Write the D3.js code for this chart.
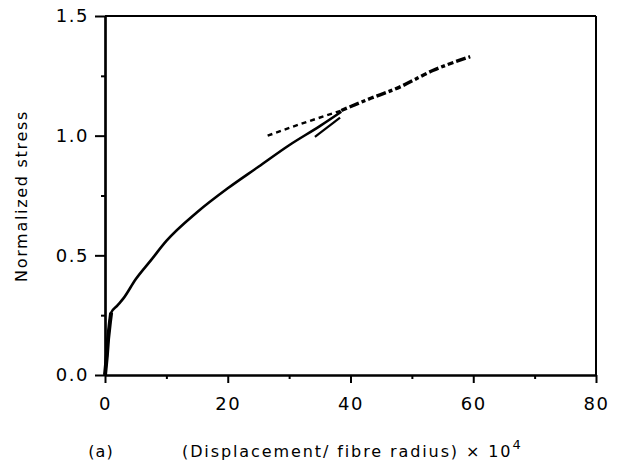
<!DOCTYPE html>
<html>
<head>
<meta charset="utf-8">
<script src="https://cdn.jsdelivr.net/npm/d3@7"></script>
<style>
  body { margin: 0; background: #fff; }
  text { font-family: "DejaVu Sans", sans-serif; fill: #000; }
</style>
</head>
<body>
<script>
// values
var xMajor = [0, 20, 40, 60, 80];
var xMinor = [10, 30, 50, 70];
var yMajor = [0, 0.5, 1.0, 1.5];
var yMinor = [0.25, 0.75, 1.25];

// loading curve (solid)
var loadX = [0, 0.3, 0.5, 0.8, 1.0, 2, 3, 5, 7.5, 10, 15, 20, 25, 30, 35, 38.5];
var loadY = [0, 0.08, 0.15, 0.22, 0.26, 0.29, 0.32, 0.40, 0.48, 0.56, 0.68, 0.78, 0.87, 0.96, 1.04, 1.10];
// unload / reload branch
var unloadX = [34.2, 38.3];
var unloadY = [0.995, 1.075];
// extrapolation (fine dashes)
var extrapX = [26.5, 32, 38.5];
var extrapY = [1.0, 1.05, 1.105];
// continued curve (heavy dashes)
var upperX = [38.5, 42.6, 48, 53.4, 59.5];
var upperY = [1.105, 1.149, 1.203, 1.272, 1.33];

var margin = {left: 105, right: 23, top: 16, bottom: 91},
    width = 619 - margin.left - margin.right,
    height = 466 - margin.top - margin.bottom;

var svg = d3.select("body")
    .append("svg")
    .attr("width", 619)
    .attr("height", 466)
    .append("g")
    .attr("transform", "translate(" + margin.left + "," + margin.top + ")");

var x = d3.scaleLinear().domain([0, 80]).range([0, width]);
var y = d3.scaleLinear().domain([0, 1.5]).range([height, 0]);

function pts(xs, ys) {
    return xs.map(function (d, i) { return [d, ys[i]]; });
}
var line = d3.line().x(d => x(d[0])).y(d => y(d[1]));
var curve = d3.line().x(d => x(d[0])).y(d => y(d[1])).curve(d3.curveMonotoneX);

// frame
svg.append("line").attr("x1", 0).attr("x2", width).attr("y1", 0).attr("y2", 0)
    .attr("stroke", "#000").attr("stroke-width", 2);
svg.append("line").attr("x1", width).attr("x2", width).attr("y1", 0).attr("y2", height)
    .attr("stroke", "#000").attr("stroke-width", 2);

// axes
svg.append("g")
    .attr("transform", "translate(0," + height + ")")
    .call(d3.axisBottom(x).tickValues(xMajor).tickSize(8).tickSizeOuter(0).tickPadding(14)
        .tickFormat(d3.format("d")));
svg.append("g")
    .attr("transform", "translate(0," + height + ")")
    .call(d3.axisBottom(x).tickValues(xMinor).tickSize(4).tickSizeOuter(0).tickFormat(""));

svg.append("g")
    .call(d3.axisLeft(y).tickValues(yMajor).tickSize(10).tickSizeOuter(0).tickPadding(6)
        .tickFormat(d3.format(".1f")));
svg.append("g")
    .call(d3.axisLeft(y).tickValues(yMinor).tickSize(4).tickSizeOuter(0).tickFormat(""));

svg.selectAll(".domain").attr("stroke-width", 2.2);
svg.selectAll(".tick line").attr("stroke-width", 2);
svg.selectAll(".tick text").style("font-size", "18px").style("letter-spacing", "1.5px");

// curves
svg.append("path")
    .attr("d", curve(pts(loadX, loadY)))
    .attr("fill", "none").attr("stroke", "#000").attr("stroke-width", 2.6);
svg.append("path")
    .attr("d", line(pts(loadX.slice(0, 5), loadY.slice(0, 5))))
    .attr("fill", "none").attr("stroke", "#000").attr("stroke-width", 4);
svg.append("path")
    .attr("d", line(pts(unloadX, unloadY)))
    .attr("fill", "none").attr("stroke", "#000").attr("stroke-width", 2.2);
svg.append("path")
    .attr("d", line(pts(extrapX, extrapY)))
    .attr("fill", "none").attr("stroke", "#000").attr("stroke-width", 2.4)
    .attr("stroke-dasharray", "5,4");
svg.append("path")
    .attr("d", curve(pts(upperX, upperY)))
    .attr("fill", "none").attr("stroke", "#000").attr("stroke-width", 3.4)
    .attr("stroke-dasharray", "6,3,10,3,4,3");

// labels
svg.append("text")
    .attr("transform", "translate(" + (-78) + "," + 180 + ") rotate(-90)")
    .attr("text-anchor", "middle")
    .style("font-size", "16px")
    .style("letter-spacing", "1.7px")
    .text("Normalized stress");

svg.append("text")
    .attr("x", -4).attr("y", 441)
    .attr("text-anchor", "middle")
    .style("font-size", "16px")
    .style("letter-spacing", "1px")
    .text("(a)");

var xl = svg.append("text")
    .attr("x", 77).attr("y", 441)
    .style("font-size", "16px")
    .style("letter-spacing", "1.9px");
xl.append("tspan").text("(Displacement/ fibre radius) × 10");
xl.append("tspan").attr("dy", -8).style("font-size", "13px").text("4");
</script>
</body>
</html>
